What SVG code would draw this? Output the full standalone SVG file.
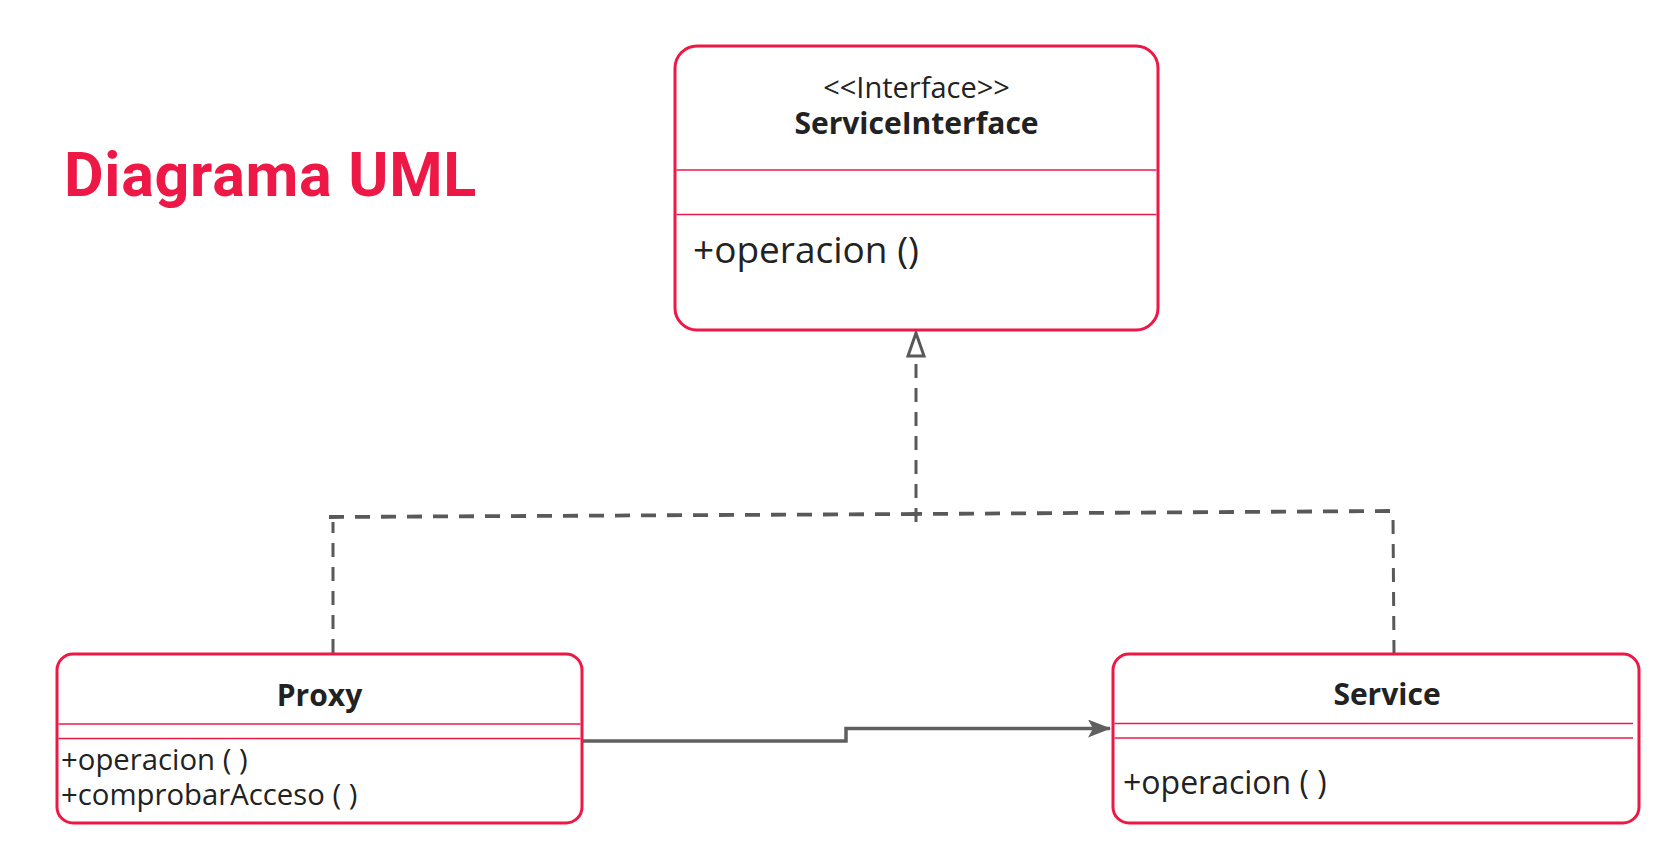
<svg xmlns="http://www.w3.org/2000/svg" width="1665" height="847" viewBox="0 0 1665 847">
  <style>
    .box { fill: #ffffff; stroke: #EE1847; stroke-width: 3; }
    .div { stroke: #EE1847; stroke-width: 1.6; fill: none; }
    .txt { font-family: "Open Sans", "Noto Sans", sans-serif; fill: #222222; }
    .bold { font-weight: 700; }
    .dash { fill: none; stroke: #595959; stroke-width: 3; stroke-dasharray: 14 10; }
    .dashh { fill: none; stroke: #595959; stroke-width: 3.8; stroke-dasharray: 15 11; }
    .solid { fill: none; stroke: #5f5f5f; stroke-width: 3.5; }
  </style>
  <defs>
    <marker id="arrowFilled" viewBox="0 0 24 18" refX="22" refY="9" markerWidth="24" markerHeight="18" markerUnits="userSpaceOnUse" orient="auto">
      <path d="M0,0 L23,9 L0,18 L5,9 Z" fill="#5f5f5f"/>
    </marker>
  </defs>
  <rect width="1665" height="847" fill="#ffffff"/>

  <g id="title">
    <text x="64" y="196" font-family="Roboto, 'Liberation Sans', sans-serif" font-weight="700" font-size="61" letter-spacing="0.7" fill="#EE1847">Diagrama UML</text>
  </g>

  <g id="connectors">
    <!-- Proxy realizes ServiceInterface -->
    <path class="dash" d="M333,653 V522"/>
    <path class="dashh" d="M329,517 L916,514"/>
    <!-- Service realizes ServiceInterface -->
    <path class="dash" d="M1394,654 L1393,516"/>
    <path class="dashh" d="M1390,511 L916,514"/>
    <path class="dash" d="M916,522 V357"/>
    <path d="M916,333 L908,356 L924,356 Z" fill="#ffffff" stroke="#595959" stroke-width="3" stroke-linejoin="miter"/>
    <!-- Proxy -> Service association -->
    <path class="solid" d="M582,741 H846 V728.5 H1110" marker-end="url(#arrowFilled)"/>
  </g>

  <g id="ServiceInterface">
    <rect class="box" x="675" y="46" width="483" height="284" rx="22" ry="22"/>
    <line class="div" x1="676.5" y1="170" x2="1156.5" y2="170"/>
    <line class="div" x1="676.5" y1="214.5" x2="1156.5" y2="214.5"/>
    <text class="txt" x="916.5" y="98" font-size="29" text-anchor="middle">&lt;&lt;Interface&gt;&gt;</text>
    <text class="txt bold" x="916.5" y="134" font-size="30" text-anchor="middle">ServiceInterface</text>
    <text class="txt" x="693" y="263" font-size="37">+operacion ()</text>
  </g>

  <g id="Proxy">
    <rect class="box" x="57" y="654" width="525" height="169" rx="16" ry="16"/>
    <line class="div" x1="58.5" y1="724" x2="580.5" y2="724"/>
    <line class="div" x1="58.5" y1="738.5" x2="580.5" y2="738.5"/>
    <text class="txt bold" x="319.5" y="706" font-size="30" text-anchor="middle">Proxy</text>
    <text class="txt" x="61" y="769.5" font-size="29.3">+operacion ( )</text>
    <text class="txt" x="61" y="805" font-size="29.3">+comprobarAcceso ( )</text>
  </g>

  <g id="Service">
    <rect class="box" x="1113" y="654" width="526" height="169" rx="16" ry="16"/>
    <line class="div" x1="1114.5" y1="723.5" x2="1633" y2="723.5"/>
    <line class="div" x1="1114.5" y1="738" x2="1633" y2="738"/>
    <text class="txt bold" x="1387" y="705" font-size="30" text-anchor="middle">Service</text>
    <text class="txt" x="1123" y="793.5" font-size="32">+operacion ( )</text>
  </g>
</svg>
